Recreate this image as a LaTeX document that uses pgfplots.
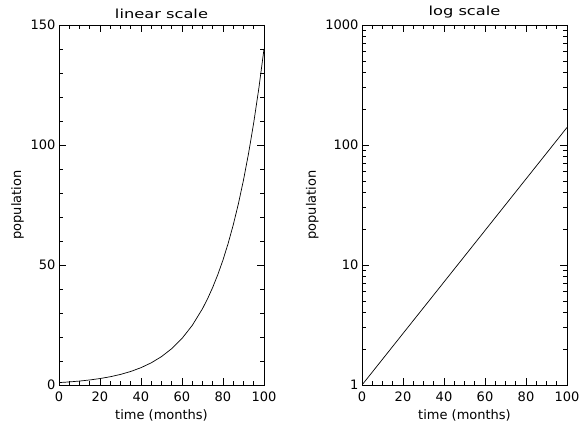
\documentclass[border=0pt]{standalone}
\usepackage{fontspec}
\setmainfont{DejaVu Sans}
\newfontfamily\titlefont{DejaVu Sans}[FakeStretch=1.3]
\usepackage{pgfplots}
\pgfplotsset{compat=1.18}

% population = growth of ~5%/month
\pgfplotstableread{
t     pop
0     1.000
5     1.280
10    1.639
15    2.099
20    2.687
25    3.440
30    4.404
35    5.638
40    7.219
45    9.242
50    11.83
55    15.15
60    19.39
65    24.83
70    31.79
72.5  35.98
75    40.70
77.5  46.06
80    52.11
82.5  58.96
85    66.71
87.5  75.48
90    85.41
92.5  96.64
95    109.35
97.5  123.72
100   140.0
}\popdata

\pgfplotsset{
  idl/.style={
    scale only axis, width=205pt, height=360pt,
    anchor=south west,
    axis line style={line width=0.8pt},
    tick style={line width=0.7pt, black},
    major tick length=7pt, minor tick length=4pt,
    xmin=0, xmax=100, xtick={0,20,...,100}, minor x tick num=3,
    tick label style={font=\fontsize{13}{15}\selectfont},
    xticklabel style={yshift=-3pt},
    /pgf/number format/assume math mode=true,
    xlabel={time (months)}, ylabel={population},
    label style={font=\fontsize{13}{15}\selectfont},
    title style={font=\fontsize{12.5}{14}\selectfont\titlefont, yshift=-3pt},
    xlabel style={yshift=-1pt},
  }
}

\begin{document}
\begin{tikzpicture}
\useasboundingbox (0,0) rectangle (581pt,427pt);
\begin{axis}[idl, at={(59pt,42pt)},
  title={linear scale},
  ymin=0, ymax=150, ytick={0,50,100,150}, minor y tick num=4,
]
\addplot[black, line width=0.7pt] table[x=t, y=pop] {\popdata};
\end{axis}
\begin{axis}[idl, at={(362pt,42pt)},
  title={log scale},
  ymode=log, ymin=1, ymax=1000,
  ytick={1,10,100,1000}, yticklabels={1,10,100,1000},
]
\addplot[black, line width=0.7pt] table[x=t, y=pop] {\popdata};
\end{axis}
\end{tikzpicture}
\end{document}
